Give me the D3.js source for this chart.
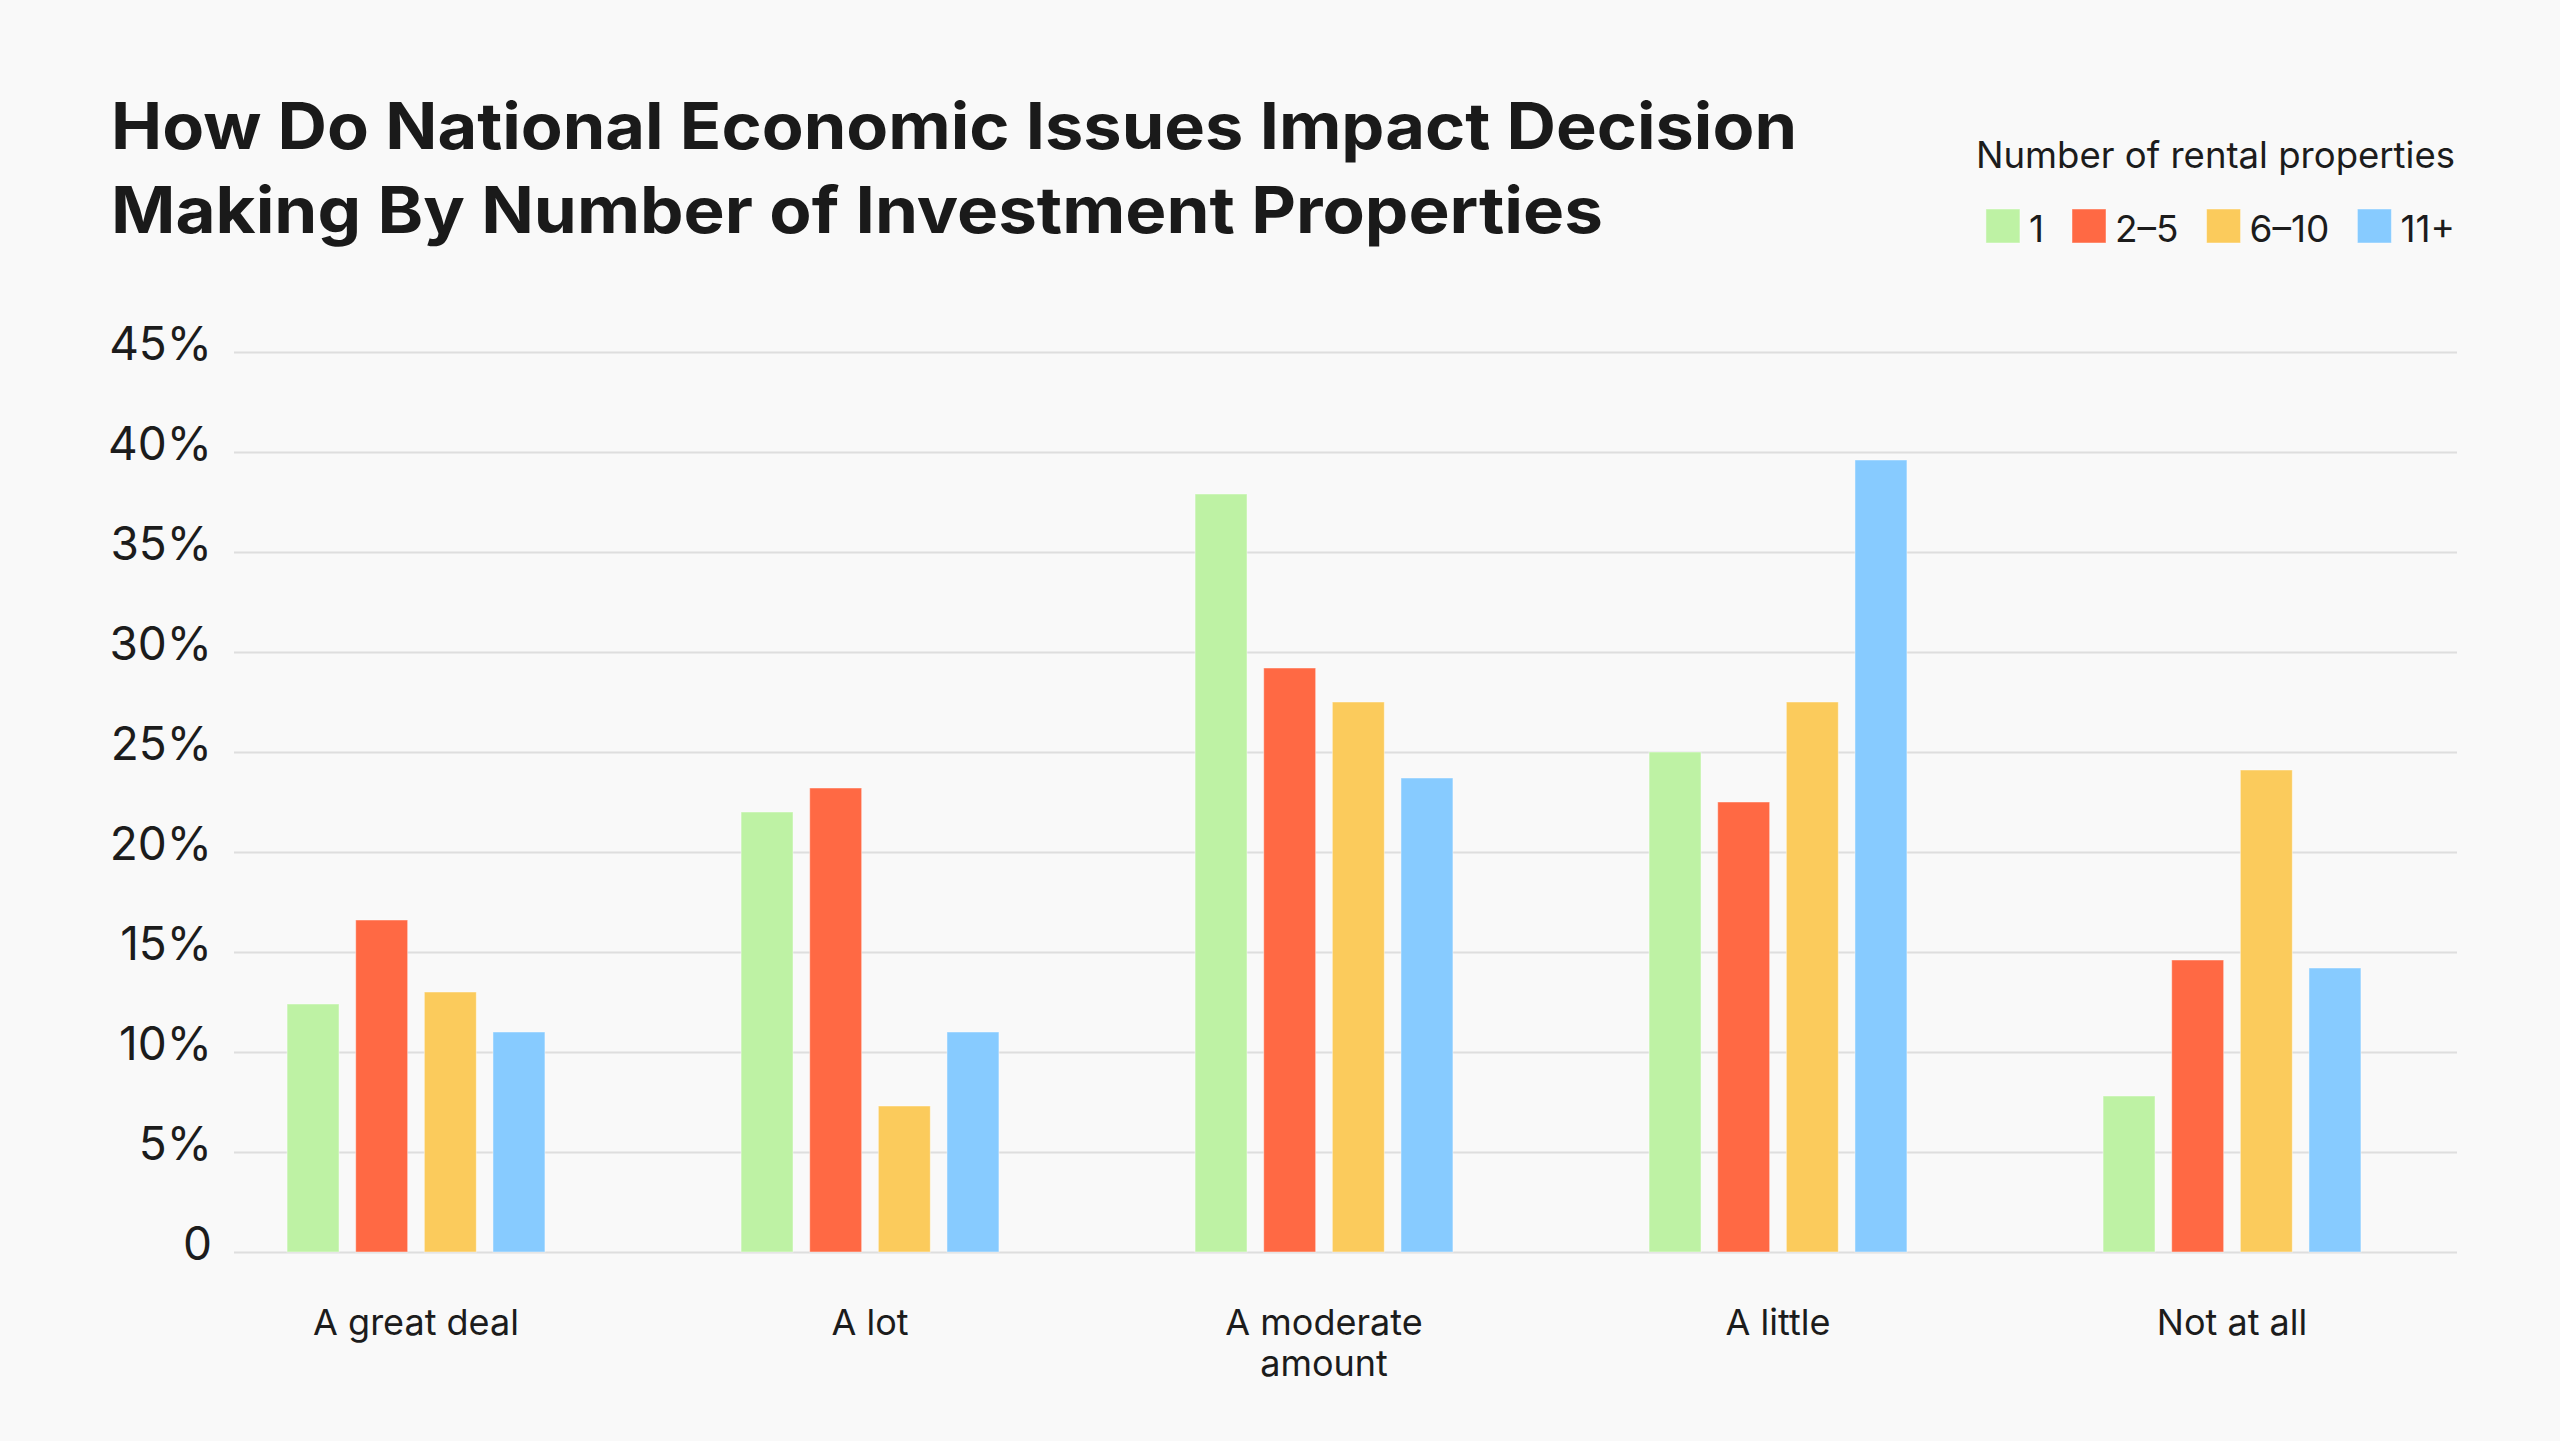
<!DOCTYPE html>
<html>
<head>
<meta charset="utf-8">
<script src="https://cdn.jsdelivr.net/npm/d3@7"></script>
<style>
  html, body { margin: 0; padding: 0; background: #f9f9f9; }
  svg { display: block; font-family: Inter, "Noto Sans", sans-serif; }
</style>
</head>
<body>
<div id="chart"></div>
<script>
// Survey data: share of respondents per answer, by number of rental properties
const categories = ['A great deal', 'A lot', 'A moderate amount', 'A little', 'Not at all'];
const seriesNames = ['1', '2–5', '6–10', '11+'];
const values1 = [12.4, 22.0, 37.9, 25.0, 7.8];
const values2to5 = [16.6, 23.2, 29.2, 22.5, 14.6];
const values6to10 = [13.0, 7.3, 27.5, 27.5, 24.1];
const values11plus = [11.0, 11.0, 23.7, 39.6, 14.2];
const yTicks = [0, 5, 10, 15, 20, 25, 30, 35, 40, 45];
const seriesColors = ['#bef2a4', '#ff6944', '#fbcb5c', '#87cbff'];

const titleLines = ['How Do National Economic Issues Impact Decision',
                    'Making By Number of Investment Properties'];
const legendTitle = 'Number of rental properties';

const width = 2560, height = 1441;
const allValues = [values1, values2to5, values6to10, values11plus];
const fontStack = 'Inter, "Noto Sans", sans-serif';

// table for grouped bars
const table = categories.map((c, i) => ({
  category: c,
  values: seriesNames.map((s, j) => ({ key: s, value: allValues[j][i] }))
}));

const svg = d3.select('#chart').append('svg')
  .attr('width', width)
  .attr('height', height);

svg.append('rect').attr('width', width).attr('height', height).attr('fill', '#f9f9f9');

// --- Scales ---
const gridLeft = 234, gridRight = 2457;
const x0 = d3.scaleBand()
  .domain(categories)
  .range([189, 2459])
  .paddingInner(0.432)
  .paddingOuter(0.216);

const x1 = d3.scaleBand()
  .domain(seriesNames)
  .range([0, x0.bandwidth()])
  .paddingInner(0.243)
  .paddingOuter(0);

const y = d3.scaleLinear()
  .domain([0, 45])
  .range([1252, 352]);

const color = d3.scaleOrdinal().domain(seriesNames).range(seriesColors);

// --- Y axis + grid ---
const yAxis = svg.append('g')
  .attr('transform', 'translate(' + gridLeft + ',0)')
  .call(d3.axisLeft(y)
    .tickValues(yTicks)
    .tickSize(-(gridRight - gridLeft))
    .tickPadding(22)
    .tickFormat(d => d === 0 ? '0' : d + '%'))
  .attr('font-family', fontStack)                        // axis sets sans-serif by default
  .attr('font-size', 46);

yAxis.select('.domain').remove();
yAxis.selectAll('.tick line').attr('stroke', '#dedede').attr('stroke-width', 2);
yAxis.selectAll('.tick text')
  .attr('fill', '#1c1c1c')
  .attr('dy', '0.17em');

// --- Bars ---
const groups = svg.append('g')
  .selectAll('g')
  .data(table)
  .join('g')
  .attr('transform', d => 'translate(' + x0(d.category) + ',0)');

groups.selectAll('rect')
  .data(d => d.values)
  .join('rect')
  .attr('x', d => x1(d.key))
  .attr('width', x1.bandwidth())
  .attr('y', d => y(d.value))
  .attr('height', d => y(0) - y(d.value))
  .attr('fill', d => color(d.key))
  .attr('stroke', 'rgba(255,255,255,0.45)')
  .attr('stroke-width', 1);

// --- X axis ---
const xAxis = svg.append('g')
  .attr('transform', 'translate(0,' + y(0) + ')')
  .call(d3.axisBottom(x0).tickSize(0).tickPadding(57))
  .attr('font-family', fontStack)
  .attr('font-size', 36);

xAxis.select('.domain').remove();
xAxis.selectAll('.tick text')
  .attr('fill', '#1c1c1c')
  .call(wrap, 262);

function wrap(texts, maxWidth)                         // classic word wrap for tick labels
{
  texts.each(function() {
    const text = d3.select(this);
    const words = text.text().split(/\s+/);
    const yPos = text.attr('y');
    const dy = parseFloat(text.attr('dy'));
    const lineHeight = 1.16;                            // em
    let line = [], lineNo = 0;
    let tspan = text.text(null).append('tspan').attr('x', 0).attr('y', yPos).attr('dy', dy + 'em');
    words.forEach(w => {
      line.push(w);
      tspan.text(line.join(' '));
      if (tspan.node().getComputedTextLength() > maxWidth && line.length > 1)
      {
        line.pop();
        tspan.text(line.join(' '));
        line = [w];
        tspan = text.append('tspan').attr('x', 0).attr('y', yPos)
          .attr('dy', (++lineNo * lineHeight + dy) + 'em').text(w);
      }
    });
  });
}

// --- Title ---
const titleWidths = [1686, 1492];
svg.append('g')
  .selectAll('text')
  .data(titleLines)
  .join('text')
  .attr('x', 111)
  .attr('y', (d, i) => 149 + i * 84)
  .attr('fill', '#1a1a1a')
  .style('font-size', '64px')
  .style('font-weight', 700)
  .attr('textLength', (d, i) => titleWidths[i])
  .attr('lengthAdjust', 'spacingAndGlyphs')
  .text(d => d);

// --- Legend ---
const legendRight = 2455;
svg.append('text')
  .attr('x', legendRight)
  .attr('y', 168)
  .attr('text-anchor', 'end')
  .attr('fill', '#1c1c1c')
  .style('font-size', '36.5px')
  .attr('textLength', 479)
  .attr('lengthAdjust', 'spacingAndGlyphs')
  .text(legendTitle);

const legend = svg.append('g');
const sw = 34, swGap = 9, itemGap = 28;
let cursor = legendRight;
for (let i = seriesNames.length - 1; i >= 0; i--)       // lay out from the right edge
{
  const label = legend.append('text')
    .attr('y', 242)
    .attr('fill', '#1c1c1c')
    .style('font-size', '37px')
    .text(seriesNames[i]);
  const w = label.node().getComputedTextLength();
  label.attr('x', cursor - w);
  legend.append('rect')
    .attr('x', cursor - w - swGap - sw)
    .attr('y', 209)
    .attr('width', sw)
    .attr('height', sw)
    .attr('fill', seriesColors[i])
    .attr('stroke', 'rgba(255,255,255,0.45)');
  cursor = cursor - w - swGap - sw - itemGap;
}
</script>
</body>
</html>
